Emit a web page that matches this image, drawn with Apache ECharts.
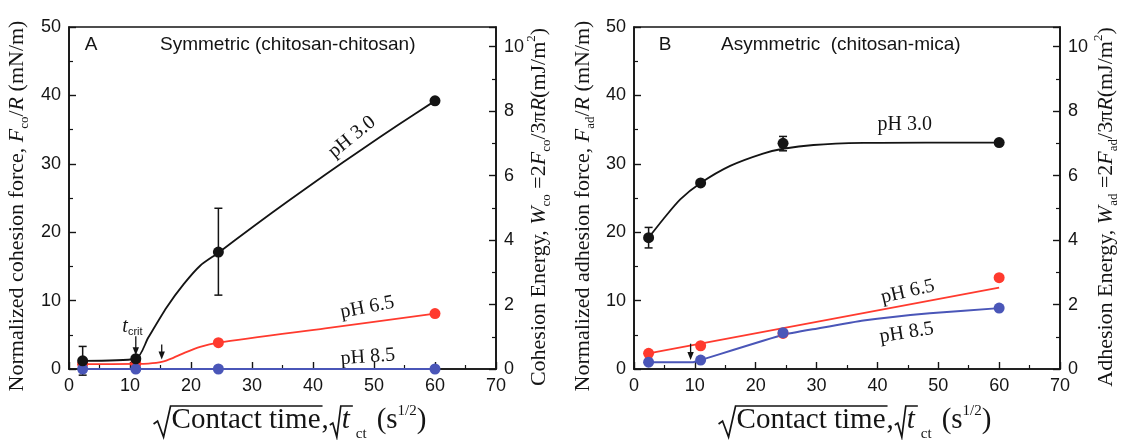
<!DOCTYPE html>
<html><head><meta charset="utf-8">
<script src="https://cdn.jsdelivr.net/npm/echarts@6/dist/echarts.min.js"></script>
<style>html,body{margin:0;padding:0;background:#fff}#c{width:1122px;height:440px}</style>
</head><body><div id="c"></div>
<script>
// ---------------- data ----------------
const xTickValues = [0, 10, 20, 30, 40, 50, 60, 70];
const forceTicks = [0, 10, 20, 30, 40, 50];
const energyTicks = [0, 2, 4, 6, 8, 10];

// Panel A: symmetric (chitosan-chitosan)
const aX = [2.24, 10.95, 24.49, 60];
const aPH30 = [1.2, 1.5, 17.1, 39.2];
const aPH30ErrLow = [-0.9, null, 10.8, null];
const aPH30ErrHigh = [3.3, null, 23.5, null];
const aPH65 = [0.7, 0.8, 3.85, 8.1];
const aPH85 = [0, 0, 0, 0];
// fitted guide curves
const aFit30X = [2.24, 10.95, 13, 16, 18.8, 21.5, 24.5, 30, 36, 42, 48, 54, 60];
const aFit30Y = [1.2, 1.5, 4.6, 9.0, 12.4, 15.1, 17.0, 20.7, 24.6, 28.4, 32.1, 35.7, 39.2];
const aFit65X = [2.24, 10.95, 13, 15.2, 17, 19, 21.5, 24.5, 42, 60];
const aFit65Y = [0.7, 0.75, 0.8, 1.05, 1.6, 2.4, 3.25, 3.85, 5.95, 8.1];
const aFit85X = [2.24, 60];
const aFit85Y = [0, 0];
// arrows: x, start y, end y
const aArrowX = [10.95, 15.2];
const aArrowFrom = [4.8, 3.6];
const aArrowTo = [2.0, 1.4];

// Panel B: asymmetric (chitosan-mica)
const bX = [2.4, 10.95, 24.49, 60];
const bPH30 = [19.2, 27.2, 33.0, 33.1];
const bPH30ErrLow = [17.7, null, 31.9, null];
const bPH30ErrHigh = [20.7, null, 34.0, null];
const bPH65 = [2.3, 3.4, 5.2, 13.35];
const bPH85 = [1.0, 1.3, 5.3, 8.9];
const bFit30X = [2.4, 4.8, 7.6, 10.95, 15.8, 21.2, 24.5, 29.5, 37.7, 48, 60];
const bFit30Y = [19.2, 21.9, 24.8, 27.2, 29.7, 31.5, 32.2, 32.75, 33.05, 33.1, 33.1];
const bFit65X = [2.4, 60];
const bFit65Y = [2.3, 11.9];
const bFit85X = [2.4, 9.6, 10.95, 24.5, 30, 37.7, 48.6, 60];
const bFit85Y = [0.97, 0.97, 1.3, 5.0, 5.9, 7.1, 8.15, 8.9];
const bArrowX = [9.3];
const bArrowFrom = [3.7];
const bArrowTo = [1.3];

// ---------------- styling ----------------
const SERIF = 'Liberation Serif', SANS = 'Liberation Sans';
const INK = '#141414', RED = '#ff3a2e', BLUE = '#4a56b8';
const forceMax = forceTicks[forceTicks.length - 1];
const energyMax = forceMax * 2 / (3 * Math.PI);

const chart = echarts.init(document.getElementById('c'), null, {renderer: 'canvas'});

const pairs = (xs, ys) => xs.map((x, i) => [x, ys[i]]);
const triples = (xs, a, b) => xs.map((x, i) => [x, a[i], b[i]]).filter(d => d[1] != null);

function xAx(gi) {
  return {
    type: 'value', gridIndex: gi, min: xTickValues[0], max: xTickValues[xTickValues.length - 1],
    interval: xTickValues[1] - xTickValues[0],
    axisLine: {show: true, onZero: false, lineStyle: {color: INK, width: 1.6}},
    axisTick: {show: true, inside: true, length: 7, lineStyle: {color: INK, width: 1.4}},
    minorTick: {show: true, splitNumber: 2, length: 4, lineStyle: {color: INK, width: 1.2}},
    axisLabel: {color: INK, fontFamily: SANS, fontSize: 18, margin: 8},
    splitLine: {show: false}, minorSplitLine: {show: false}
  };
}
function yAx(gi, pos, max, interval) {
  return {
    type: 'value', gridIndex: gi, position: pos, min: 0, max: max, interval: interval,
    axisLine: {show: true, onZero: false, lineStyle: {color: INK, width: 1.6}},
    axisTick: {show: true, inside: true, length: 7, lineStyle: {color: INK, width: 1.4}},
    minorTick: {show: true, splitNumber: 2, length: 4, lineStyle: {color: INK, width: 1.2}},
    axisLabel: {color: INK, fontFamily: SANS, fontSize: 18, margin: 8, showMaxLabel: pos === 'left',
      formatter: v => (Math.abs(v - Math.round(v)) < 1e-6 && Math.round(v) % interval === 0) ? String(Math.round(v)) : ''},
    splitLine: {show: false}, minorSplitLine: {show: false}
  };
}

function errRender(params, api) {
  const x = api.value(0);
  const p1 = api.coord([x, api.value(1)]), p2 = api.coord([x, api.value(2)]);
  const w = 4, st = {stroke: INK, lineWidth: 1.5};
  return {type: 'group', children: [
    {type: 'line', shape: {x1: p1[0], y1: p1[1], x2: p2[0], y2: p2[1]}, style: st},
    {type: 'line', shape: {x1: p1[0] - w, y1: p1[1], x2: p1[0] + w, y2: p1[1]}, style: st},
    {type: 'line', shape: {x1: p2[0] - w, y1: p2[1], x2: p2[0] + w, y2: p2[1]}, style: st}
  ]};
}
function arrowRender(params, api) {
  const x = api.value(0);
  const a = api.coord([x, api.value(1)]), b = api.coord([x, api.value(2)]);
  const hl = 8, hw = 3.2;
  return {type: 'group', children: [
    {type: 'line', shape: {x1: a[0], y1: a[1], x2: b[0], y2: b[1] - hl + 1}, style: {stroke: INK, lineWidth: 1.3}},
    {type: 'polygon', shape: {points: [[b[0] - hw, b[1] - hl], [b[0] + hw, b[1] - hl], [b[0], b[1]]]}, style: {fill: INK}}
  ]};
}

function panelSeries(xi, yi, d) {
  const lineBase = (data, color, w) => ({type: 'line', xAxisIndex: xi, yAxisIndex: yi, data, symbol: 'none',
    smooth: 0.25, lineStyle: {color, width: w}, itemStyle: {color}, z: 2, silent: true});
  const sc = (data, color) => ({type: 'scatter', xAxisIndex: xi, yAxisIndex: yi, data, symbol: 'circle',
    symbolSize: 11, itemStyle: {color, opacity: 1}, z: 4, clip: false});
  return [
    lineBase(d.fit65, RED, 1.8),
    lineBase(d.fit85, BLUE, 2),
    lineBase(d.fit30, INK, 1.8),
    {type: 'custom', xAxisIndex: xi, yAxisIndex: yi, data: d.err, renderItem: errRender, clip: false, z: 3,
      encode: {x: 0, y: [1, 2]}},
    sc(d.s65, RED),
    sc(d.s85, BLUE),
    sc(d.s30, INK),
    {type: 'custom', xAxisIndex: xi, yAxisIndex: yi, data: d.arrows, renderItem: arrowRender, clip: false, z: 5,
      encode: {x: 0, y: [1, 2]}}
  ];
}

const seriesA = panelSeries(0, 0, {
  fit30: pairs(aFit30X, aFit30Y), fit65: pairs(aFit65X, aFit65Y), fit85: pairs(aFit85X, aFit85Y),
  err: triples(aX, aPH30ErrLow, aPH30ErrHigh),
  s30: pairs(aX, aPH30), s65: pairs(aX, aPH65), s85: pairs(aX, aPH85),
  arrows: triples(aArrowX, aArrowFrom, aArrowTo)
});
const seriesB = panelSeries(1, 2, {
  fit30: pairs(bFit30X, bFit30Y), fit65: pairs(bFit65X, bFit65Y), fit85: pairs(bFit85X, bFit85Y),
  err: triples(bX, bPH30ErrLow, bPH30ErrHigh),
  s30: pairs(bX, bPH30), s65: pairs(bX, bPH65), s85: pairs(bX, bPH85),
  arrows: triples(bArrowX, bArrowFrom, bArrowTo)
});
seriesB[1].smooth = 0.12;
seriesA[1].smooth = false;

const gridBase = {show: true, borderColor: INK, borderWidth: 1.6, backgroundColor: 'transparent',
  containLabel: false, outerBoundsMode: 'none'};
const option = {
  backgroundColor: '#ffffff',
  animation: false,
  grid: [
    Object.assign({left: 69, top: 27, width: 427, height: 342}, gridBase),
    Object.assign({left: 634, top: 27, width: 426, height: 342}, gridBase)
  ],
  xAxis: [xAx(0), xAx(1)],
  yAxis: [
    yAx(0, 'left', forceMax, forceTicks[1] - forceTicks[0]),
    yAx(0, 'right', energyMax, energyTicks[1] - energyTicks[0]),
    yAx(1, 'left', forceMax, forceTicks[1] - forceTicks[0]),
    yAx(1, 'right', energyMax, energyTicks[1] - energyTicks[0])
  ],
  series: seriesA.concat(seriesB)
};
chart.setOption(option);

// ---------------- annotations ----------------
const ctx = document.createElement('canvas').getContext('2d');
function tw(text, font) { ctx.font = font; return ctx.measureText(text).width; }
const px = (si, x, y) => chart.convertToPixel({seriesIndex: si}, [x, y]);

const g = [];
function txt(x, y, text, size, family, opts) {
  g.push(Object.assign({type: 'text', x, y, silent: true, style: Object.assign({text, fontSize: size, fontFamily: family,
    fill: INK, align: 'left', verticalAlign: 'middle'}, (opts && opts.style) || {})}, (opts && opts.el) || {}));
}

// panel titles
txt(91, 45, 'A', 19, SANS, {style: {align: 'center'}});
txt(160, 45, 'Symmetric (chitosan-chitosan)', 19, SANS);
txt(665, 45, 'B', 19, SANS, {style: {align: 'center'}});
txt(721, 45, 'Asymmetric  (chitosan-mica)', 19, SANS);

// pH labels (positions given in data coordinates of each panel)
const phLabels = [
  {si: 0, x: 46.4, y: 33.9, t: 'pH 3.0', r: 39},
  {si: 0, x: 48.9, y: 9.0, t: 'pH 6.5', r: 11},
  {si: 0, x: 49.0, y: 1.75, t: 'pH 8.5', r: 4},
  {si: 8, x: 44.5, y: 35.7, t: 'pH 3.0', r: 0},
  {si: 8, x: 45.0, y: 11.3, t: 'pH 6.5', r: 13},
  {si: 8, x: 44.8, y: 5.3, t: 'pH 8.5', r: 9}
];
phLabels.forEach(l => {
  const p = px(l.si, l.x, l.y);
  g.push({type: 'text', x: p[0], y: p[1], rotation: l.r * Math.PI / 180, silent: true,
    style: {text: l.t, fontSize: 20, fontFamily: SERIF, fill: INK, align: 'center', verticalAlign: 'middle'}});
});
// t_crit
{
  const p = px(0, 10.4, 6.2);
  g.push({type: 'text', x: p[0], y: p[1], silent: true, style: {
    text: '{t|t}{c|crit}', align: 'center', verticalAlign: 'middle',
    rich: {
      t: {fontFamily: SERIF, fontStyle: 'italic', fontSize: 20, lineHeight: 22, fill: INK, color: INK},
      c: {fontFamily: SANS, fontSize: 11, lineHeight: 8, verticalAlign: 'bottom', fill: INK, color: INK}
    }}});
}

// y-axis titles (rotated, rich text)
const yRich = {
  m: {fontFamily: SERIF, fontSize: 22, lineHeight: 28, fill: INK, color: INK},
  i: {fontFamily: SERIF, fontStyle: 'italic', fontSize: 22, lineHeight: 28, fill: INK, color: INK},
  s: {fontFamily: SERIF, fontSize: 13, lineHeight: 10, verticalAlign: 'bottom', fill: INK, color: INK},
  p: {fontFamily: SERIF, fontSize: 13, lineHeight: 12, verticalAlign: 'top', fill: INK, color: INK}
};
function yTitle(x, y, text) {
  g.push({type: 'text', x, y, rotation: Math.PI / 2, silent: true,
    style: {text, rich: yRich, align: 'center', verticalAlign: 'middle'}});
}
yTitle(17, 206, '{m|Normalized cohesion force, }{i|F}{s|co}{m|/}{i|R}{m| (mN/m)}');
yTitle(539, 207, '{m|Cohesion Energy, }{i|W}{s|co}{m| =2}{i|F}{s|co}{m|/3π}{i|R}{m|(mJ/m}{p|2}{m|)}');
yTitle(583, 206, '{m|Normalized adhesion force, }{i|F}{s|ad}{m|/}{i|R}{m| (mN/m)}');
yTitle(1106, 207, '{m|Adhesion Energy, }{i|W}{s|ad}{m| =2}{i|F}{s|ad}{m|/3π}{i|R}{m|(mJ/m}{p|2}{m|)}');

// x-axis titles with radical signs
function xTitle(cx) {
  const S = 29, mid = 420, top = 406;
  const fM = `${S}px "${SERIF}"`, fI = `italic ${S}px "${SERIF}"`;
  const wCT = tw('Contact time', fM), wCm = tw(',', fM), wT = tw('t', fI), wCt = tw('ct', `15px "${SERIF}"`);
  const wO = tw('(s', fM), wSup = tw('1/2', `15px "${SERIF}"`), wC = tw(')', fM);
  const R1 = 18, R2 = 12, gap1 = 6, gap2 = 10;
  const total = R1 + wCT + 1 + wCm + 1 + R2 + wT + gap1 + wCt + gap2 + wO + wSup + wC;
  let x = cx - total / 2;
  const pl = (pts) => g.push({type: 'polyline', silent: true, shape: {points: pts},
    style: {stroke: INK, lineWidth: 1.7, fill: null, lineJoin: 'miter'}});
  pl([[x, mid + 4], [x + 4, mid + 1], [x + 10, mid + 17], [x + R1 - 1, top], [x + R1 + wCT + 2, top]]);
  txt(x + R1, mid, 'Contact time', S, SERIF);
  x += R1 + wCT + 1;
  txt(x, mid, ',', S, SERIF);
  x += wCm + 1;
  pl([[x, mid + 5], [x + 3, mid + 3], [x + 7, mid + 17], [x + R2 - 1, top], [x + R2 + wT + 3, top]]);
  x += R2;
  txt(x, mid, 't', S, SERIF, {style: {fontStyle: 'italic'}});
  x += wT + gap1;
  txt(x, mid + 14, 'ct', 15, SERIF);
  x += wCt + gap2;
  txt(x, mid, '(s', S, SERIF);
  x += wO;
  txt(x, mid - 9, '1/2', 15, SERIF);
  x += wSup;
  txt(x, mid, ')', S, SERIF);
}
xTitle(290);
xTitle(855);

chart.setOption({graphic: g});
</script>
</body></html>
